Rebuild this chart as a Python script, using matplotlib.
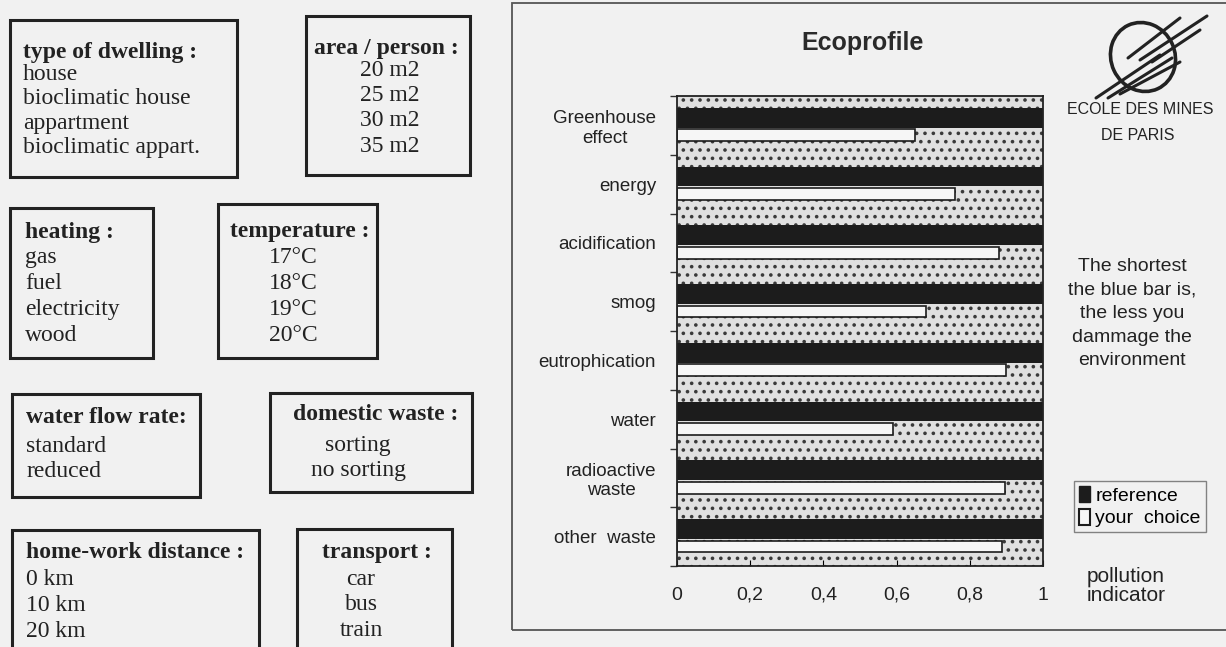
import numpy as np
import matplotlib.pyplot as plt
from matplotlib.patches import Rectangle, Ellipse, Patch
from matplotlib.lines import Line2D

W, H = 1226, 647

# data
categories = ['Greenhouse\neffect', 'energy', 'acidification', 'smog',
              'eutrophication', 'water', 'radioactive\nwaste', 'other  waste']
reference = [1, 1, 1, 1, 1, 1, 1, 1]
your_choice = [0.65, 0.76, 0.88, 0.68, 0.90, 0.59, 0.895, 0.887]
xticks = [0, 0.2, 0.4, 0.6, 0.8, 1]
xtick_labels = ['0', '0,2', '0,4', '0,6', '0,8', '1']

# option boxes on the left
headers = ['type of dwelling :', 'area / person :', 'heating :', 'temperature :',
           'water flow rate:', 'domestic waste :', 'home-work distance :',
           'transport :']
options = [['house', 'bioclimatic house', 'appartment', 'bioclimatic appart.'],
           ['20 m2', '25 m2', '30 m2', '35 m2'],
           ['gas', 'fuel', 'electricity', 'wood'],
           ['17°C', '18°C', '19°C', '20°C'],
           ['standard', 'reduced'],
           ['sorting', 'no sorting'],
           ['0 km', '10 km', '20 km'],
           ['car', 'bus', 'train']]

# layout of the boxes, in pixels
box_px = [(10, 20, 237, 177), (306, 16, 470, 175), (10, 208, 153, 358),
          (218, 204, 377, 358), (12, 394, 200, 497), (270, 393, 472, 492),
          (12, 530, 259, 660), (297, 529, 452, 660)]
align = ['left', 'center', 'left', 'center', 'left', 'center', 'left', 'center']
header_x = [23, 386, 25, 300, 26, 376, 26, 377]
item_x = [23, 390, 25, 293, 26, 358, 26, 361]
header_base = [58, 54, 238, 237, 423, 420, 558, 558]
item_base = [80, 76, 263, 263, 452, 451, 585, 585]
item_dy = [24.5, 25.2, 26, 26, 25, 25, 26, 25.5]

note = 'The shortest\nthe blue bar is,\nthe less you\ndammage the\nenvironment'

plt.rcParams['font.family'] = ['Liberation Sans', 'DejaVu Sans']
plt.rcParams['hatch.linewidth'] = 1.4
bg = '#f1f1f1'
ink = '#222222'

fig = plt.figure(figsize=(W / 100, H / 100), dpi=100, facecolor=bg)


def fx(x):
    return x / W


def fy(y):
    return 1 - y / H


for i, head in enumerate(headers):
    x0, y0, x1, y1 = box_px[i]
    fig.patches.append(Rectangle((fx(x0), fy(y1)), fx(x1 - x0), (y1 - y0) / H,
                                 transform=fig.transFigure, fill=False,
                                 edgecolor=ink, lw=2.2, clip_on=False))
    fig.text(fx(header_x[i]), fy(header_base[i]), head, family='Liberation Serif',
             weight='bold', fontsize=17, color=ink, ha=align[i], va='baseline')
    for j, o in enumerate(options[i]):
        fig.text(fx(item_x[i]), fy(item_base[i] + j * item_dy[i]), o,
                 family='Liberation Serif', fontsize=17, color=ink,
                 ha=align[i], va='baseline')

# chart panel frame
fig.patches.append(Rectangle((fx(512), fy(630)), fx(730), 627 / H,
                             transform=fig.transFigure, fill=False,
                             edgecolor='#555555', lw=1.3))

ax = fig.add_axes([fx(677), fy(566), fx(1043 - 677), (566 - 96) / H])
ax.set_facecolor('#e0e0e0')
ax.add_patch(Rectangle((0, 0), 1, 1, transform=ax.transAxes, facecolor='#e0e0e0',
                       edgecolor='#3a3a3a', hatch='..', lw=0, zorder=0))

y = np.arange(len(categories))
ax.barh(y - 0.13, reference, height=0.34, color='#1c1c1c', zorder=2)
ax.barh(y + 0.17, your_choice, height=0.2, color='#f6f6f6',
        edgecolor='#1c1c1c', lw=1.2, zorder=2)

ax.set_xlim(0, 1)
ax.set_ylim(len(categories) - 0.5, -0.5)
ax.set_yticks(y)
ax.set_yticklabels(categories, multialignment='center')
ax.set_yticks(np.arange(len(categories) + 1) - 0.5, minor=True)
ax.tick_params(axis='y', which='major', length=0, pad=15, labelsize=13.5,
               labelcolor=ink)
ax.tick_params(axis='y', which='minor', length=5, width=1, color='#333333')
ax.set_xticks(xticks)
ax.set_xticklabels(xtick_labels)
ax.tick_params(axis='x', direction='in', length=4, pad=15, labelsize=14,
               labelcolor=ink)
for s in ax.spines.values():
    s.set_color(ink)
    s.set_linewidth(1.3)
    s.set_zorder(3)

fig.text(fx(863), fy(43), 'Ecoprofile', weight='bold', fontsize=18,
         color='#2a2a2a', ha='center', va='center')

fig.text(fx(1132), fy(314), note, fontsize=14, color=ink, ha='center',
         va='center', linespacing=1.5)

fig.text(fx(1087), fy(586), 'pollution\nindicator', fontsize=15,
         color=ink, ha='left', va='center', linespacing=1.05)

handles = [Patch(facecolor='#1c1c1c', edgecolor='#1c1c1c'),
           Patch(facecolor='#f6f6f6', edgecolor='#1c1c1c', lw=1.5)]
leg = fig.legend(handles, ['reference', 'your  choice'], loc='upper left',
                 bbox_to_anchor=(fx(1074), fy(481)), frameon=True,
                 fancybox=False, edgecolor='#666666', facecolor=bg,
                 handlelength=0.55, handleheight=0.9, handletextpad=0.3,
                 borderpad=0.25, labelspacing=0.2, fontsize=14,
                 borderaxespad=0)
leg.get_frame().set_linewidth(1.0)

# logo
lax = fig.add_axes([fx(1090), fy(100), fx(125), 95 / H])
lax.set_xlim(1090, 1215)
lax.set_ylim(100, 5)
lax.axis('off')
lax.add_patch(Ellipse((1143, 57), 64, 70, angle=-25, fill=False,
                      edgecolor=ink, lw=2.6))
strokes = [((1096, 98), (1160, 55)), ((1108, 98), (1172, 58)),
           ((1120, 94), (1180, 62)), ((1128, 58), (1180, 18)),
           ((1140, 60), (1207, 16)), ((1152, 62), (1200, 30))]
for (a, b) in strokes:
    lax.add_line(Line2D([a[0], b[0]], [a[1], b[1]], color=ink, lw=2.2,
                        solid_capstyle='round'))
fig.text(fx(1140), fy(110), 'ECOLE DES MINES', fontsize=11.5, color=ink,
         ha='center', va='center')
fig.text(fx(1138), fy(135), 'DE PARIS', fontsize=11.5, color=ink,
         ha='center', va='center')

fig.savefig('out.png', dpi=100, facecolor=bg)
